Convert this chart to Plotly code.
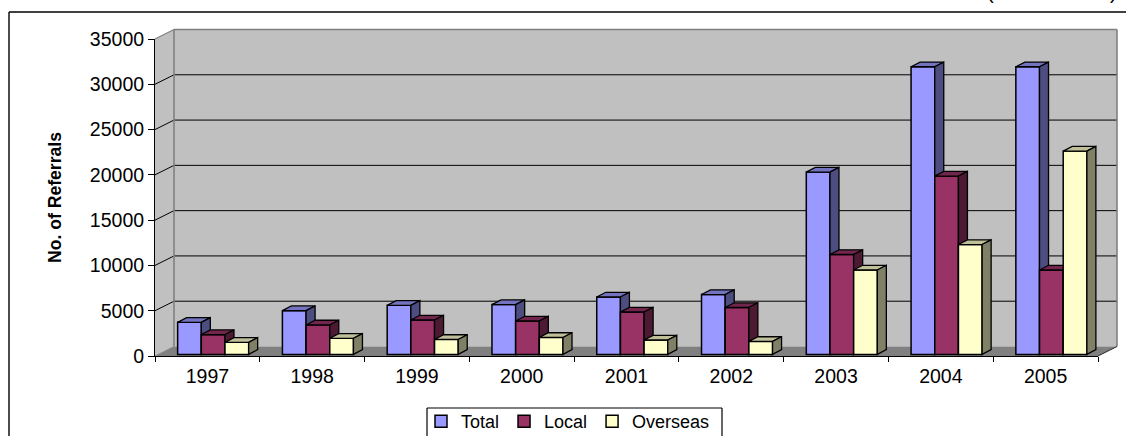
import plotly.graph_objects as go

years = ["1997", "1998", "1999", "2000", "2001", "2002", "2003", "2004", "2005"]
total = [3540, 4830, 5420, 5500, 6340, 6610, 20130, 31760, 31760]
local = [2180, 3250, 3800, 3690, 4680, 5180, 11030, 19690, 9320]
overseas = [1330, 1780, 1650, 1870, 1590, 1430, 9320, 12130, 22450]
y_ticks = [0, 5000, 10000, 15000, 20000, 25000, 30000, 35000]
y_labels = ["0", "5000", "10000", "15000", "20000", "25000", "30000", "35000"]

W, H = 1126, 436
L, R, T, B = 155.0, 1098.0, 39.0, 356.0       # front plane of the axes, pixels
WALL_DX, WALL_DY = 19.0, -9.5                 # depth of the 3-D box, pixels
BAR_DX, BAR_DY = 9.0, -4.7                    # depth of a bar, pixels
YMAX = 35000.0
n = len(years)
cat_px = (R - L) / n
val_px = (B - T) / YMAX

FONT = "Liberation Sans"
FS = 19.5


def fx(p):
    return p / W


def fy(p):
    return 1 - p / H


def py(v):
    return B - v * val_px


def poly(points, fill, line="rgba(0,0,0,0)", width=0):
    path = "M " + " L ".join(f"{fx(a):.5f},{fy(b):.5f}" for a, b in points) + " Z"
    return dict(type="path", path=path, xref="paper", yref="paper", layer="below",
                fillcolor=fill, line=dict(color=line, width=width))


def seg(x0, y0, x1, y1, color="black", width=1.0, layer="below"):
    return dict(type="line", xref="paper", yref="paper", layer=layer,
                x0=fx(x0), y0=fy(y0), x1=fx(x1), y1=fy(y1),
                line=dict(color=color, width=width))


shapes = []
# outer frame (open at the right and bottom)
shapes.append(seg(9, 12, W, 12, width=1.4))
shapes.append(seg(9, 12, 9, H, width=1.4))
# back wall, side wall, floor
shapes.append(poly([(L + WALL_DX, T + WALL_DY), (R + WALL_DX, T + WALL_DY),
                    (R + WALL_DX, B + WALL_DY), (L + WALL_DX, B + WALL_DY)], "#C0C0C0"))
shapes.append(poly([(L, T), (L + WALL_DX, T + WALL_DY),
                    (L + WALL_DX, B + WALL_DY), (L, B)], "#C0C0C0"))
shapes.append(poly([(L, B), (L + WALL_DX, B + WALL_DY),
                    (R + WALL_DX, B + WALL_DY), (R, B)], "#808080"))
# gridlines carried round the box
for v in y_ticks[1:-1]:
    y = py(v)
    shapes.append(seg(L, y, L + WALL_DX, y + WALL_DY))
    shapes.append(seg(L + WALL_DX, y + WALL_DY, R + WALL_DX, y + WALL_DY))
# wall edges
shapes.append(seg(L, T, L + WALL_DX, T + WALL_DY, "#808080", 1.2))
shapes.append(seg(L + WALL_DX, T + WALL_DY, R + WALL_DX, T + WALL_DY, "#808080", 1.4))
shapes.append(seg(L + WALL_DX, T + WALL_DY, L + WALL_DX, B + WALL_DY, "#808080", 1.6))
shapes.append(seg(R + WALL_DX, T + WALL_DY, R + WALL_DX, B + WALL_DY, "#808080", 1.6))
shapes.append(seg(R, B, R + WALL_DX, B + WALL_DY, "black", 0.8))
shapes.append(seg(L, B, L + WALL_DX, B + WALL_DY, "#808080", 0.8))
# legend frame, open at the bottom where the picture ends
shapes.append(seg(427, 408, 722, 408, width=1.2))
shapes.append(seg(427, 408, 427, H, width=1.2))
shapes.append(seg(722, 408, 722, H, width=1.2))

# bar layout in category units
BAR_W = 0.226
FIRST = 0.329
BASE = 1.6 / val_px
ddx = BAR_DX / cat_px
ddy = -BAR_DY / val_px

series = [
    ("Total", total, "#9999FF", "#7373BF", "#4D4D80", "x", "y"),
    ("Local", local, "#993366", "#73264D", "#4D1A33", "x2", "y2"),
    ("Overseas", overseas, "#FFFFCC", "#BFBF99", "#808066", "x3", "y3"),
]

fig = go.Figure()
for k, (name, vals, col, top_col, side_col, xa, ya) in enumerate(series):
    xs = [i + FIRST + k * BAR_W for i in range(n)]
    fig.add_trace(go.Bar(name=name, x=xs, y=vals, base=BASE, width=BAR_W,
                         marker=dict(color=col, line=dict(color="black", width=1.5)),
                         xaxis=xa, yaxis=ya, hoverinfo="x+y"))
    top_x, top_y, side_x, side_y = [], [], [], []
    for c, v in zip(xs, vals):
        l, r = c - BAR_W / 2, c + BAR_W / 2
        t = v + BASE
        top_x += [l, l + ddx, r + ddx, r, l, None]
        top_y += [t, t + ddy, t + ddy, t, t, None]
        side_x += [r, r + ddx, r + ddx, r, r, None]
        side_y += [t, t + ddy, BASE + ddy, BASE, t, None]
    for px_, py_, fc in ((top_x, top_y, top_col), (side_x, side_y, side_col)):
        fig.add_trace(go.Scatter(x=px_, y=py_, mode="lines", fill="toself", fillcolor=fc,
                                 line=dict(color="black", width=1.3), showlegend=False,
                                 hoverinfo="skip", xaxis=xa, yaxis=ya))

x_dom = [fx(L), fx(R)]
y_dom = [fy(B), fy(T)]
hidden = dict(visible=False, domain=x_dom, range=[0, n])
hidden_y = dict(visible=False, domain=y_dom, range=[0, YMAX])

fig.update_layout(
    width=W, height=H, autosize=False,
    margin=dict(l=0, r=0, t=0, b=0, pad=0, autoexpand=False),
    paper_bgcolor="white", plot_bgcolor="rgba(0,0,0,0)",
    font=dict(family=FONT, size=FS, color="black"),
    barmode="overlay", shapes=shapes,
    xaxis=dict(domain=x_dom, range=[0, n], tickmode="array",
               tickvals=[i + 0.5 for i in range(n)], ticktext=years, ticks="",
               showgrid=False, zeroline=False, showline=True, linecolor="black", linewidth=1,
               ticklabelstandoff=3,
               minor=dict(tickmode="array", tickvals=list(range(n + 1)), ticks="outside",
                          ticklen=5, tickcolor="black", tickwidth=1, showgrid=False)),
    yaxis=dict(domain=y_dom, range=[0, YMAX], tickmode="array", tickvals=y_ticks,
               ticktext=y_labels,
               ticks="outside", ticklen=6, tickcolor="black", tickwidth=1,
               showgrid=False, zeroline=False, showline=True, linecolor="black", linewidth=1,
               title=dict(text="<b>No. of Referrals</b>", font=dict(family=FONT, size=17.6),
                          standoff=23)),
    xaxis2=dict(hidden, overlaying="x", anchor="y2"),
    yaxis2=dict(hidden_y, overlaying="y", anchor="x2"),
    xaxis3=dict(hidden, overlaying="x", anchor="y3"),
    yaxis3=dict(hidden_y, overlaying="y", anchor="x3"),
    legend=dict(orientation="h", x=fx(421), y=fy(403), xanchor="left", yanchor="top",
                bgcolor="rgba(0,0,0,0)", borderwidth=0,
                font=dict(family=FONT, size=18), traceorder="normal", itemwidth=30,
                tracegroupgap=0, itemclick=False, itemdoubleclick=False),
    annotations=[
        dict(text="(", xref="paper", yref="paper", x=fx(990), y=fy(5), xanchor="center",
             yanchor="bottom", showarrow=False, font=dict(family=FONT, size=20)),
        dict(text=")", xref="paper", yref="paper", x=fx(1113), y=fy(5), xanchor="center",
             yanchor="bottom", showarrow=False, font=dict(family=FONT, size=20)),
    ],
)

fig.write_html("out.html", config={"displayModeBar": False},
               post_script="document.body.style.margin='0';document.body.style.overflow='hidden';")
